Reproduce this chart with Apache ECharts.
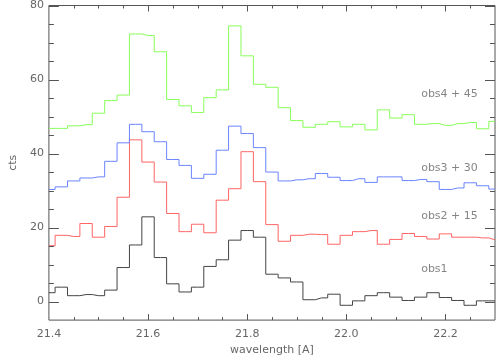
<!DOCTYPE html>
<html>
<head>
<meta charset="utf-8">
<script src="https://cdn.jsdelivr.net/npm/echarts@6/dist/echarts.min.js"></script>
<style>
  html, body { margin: 0; padding: 0; background: #fff; }
  #chart { width: 496px; height: 361px; }
</style>
</head>
<body>
<div id="chart"></div>
<script>
// wavelength bins [A]
const wavelength = [
  21.400, 21.425, 21.450, 21.475, 21.500, 21.525, 21.550, 21.575, 21.600, 21.625,
  21.650, 21.675, 21.700, 21.725, 21.750, 21.775, 21.800, 21.825, 21.850, 21.875,
  21.900, 21.925, 21.950, 21.975, 22.000, 22.025, 22.050, 22.075, 22.100, 22.125,
  22.150, 22.175, 22.200, 22.225, 22.250, 22.275, 22.300
]

// counts of each observation (before the plot offset)
const obs1 = [
  2.4, 3.9, 1.6, 1.9, 1.6, 3.1, 9.2, 15.3, 22.9, 11.9,
  4.8, 2.6, 3.9, 9.5, 11.3, 16.6, 19.2, 17.4, 7.4, 6.4,
  5.3, 0.5, 1.0, 2.0, -1.0, 0.2, 1.6, 2.4, 1.2, 0.3,
  1.2, 2.4, 1.1, 0.3, -1.0, 0.2, 0.2
]
const obs2 = [
  0.1, 2.9, 2.6, 6.1, 2.4, 5.3, 13.2, 28.7, 22.7, 17.3,
  8.8, 3.9, 5.9, 3.6, 12.4, 15.5, 25.5, 17.4, 5.8, 1.3,
  2.9, 3.2, 3.1, 0.5, 2.9, 3.9, 4.2, 0.5, 1.8, 3.4,
  2.6, 1.9, 3.3, 2.4, 2.4, 2.2, 1.7
]
const obs3 = [
  0.3, 1.0, 2.6, 3.4, 3.7, 7.9, 12.9, 17.9, 15.9, 13.2,
  8.4, 6.8, 3.3, 4.4, 10.9, 17.4, 15.4, 11.6, 5.0, 2.6,
  2.9, 3.2, 4.6, 3.6, 2.7, 3.2, 2.2, 3.7, 3.7, 2.7,
  3.0, 2.4, 0.3, 0.7, 2.1, 1.3, 0.4
]
const obs4 = [
  1.8, 1.8, 2.5, 2.8, 5.9, 9.3, 10.8, 27.3, 26.9, 22.5,
  9.6, 7.9, 6.1, 10.1, 12.2, 29.5, 21.4, 13.7, 12.9, 7.4,
  3.9, 2.1, 2.9, 3.6, 2.2, 2.9, 1.4, 6.8, 4.6, 5.5,
  2.9, 3.1, 2.6, 3.1, 3.4, 1.7, 3.7
]

const obsNames = ['obs1', 'obs2', 'obs3', 'obs4']
const obsOffsets = [0, 15, 30, 45]
const obsColors = ['#444444', '#ff6464', '#6a84ff', '#88ff5a']

// where the labels sit (data coordinates)
const labelTexts = ['obs1', 'obs2 + 15', 'obs3 + 30', 'obs4 + 45']
const labelX = [22.15, 22.15, 22.15, 22.15]
const labelY = [8.9, 23.0, 36.1, 56.1]

// tick labels / tick marks
const yMajor = [0, 20, 40, 60, 80]
const xMajorTicks = [21.6, 21.8, 22.0, 22.2]
const xMinorTicks = [21.45, 21.5, 21.55, 21.65, 21.7, 21.75, 21.85, 21.9, 21.95, 22.05, 22.1, 22.15, 22.25]
const yMinorTicks = [5, 10, 15, 25, 30, 35, 45, 50, 55, 65, 70, 75]

const axisColor = '#555'
const textColor = '#666'
const font = 'DejaVu Sans'

// inward tick marks on both sides of the frame, placed through the axes' scales
function tickSeries(values, dir, len) {
  return {
    type: 'custom',
    coordinateSystem: 'cartesian2d',
    xAxisIndex: 0,
    yAxisIndex: 0,
    clip: false,
    silent: true,
    z: 5,
    data: values.map(v => dir === 'x' ? [v, 0] : [21.4, v]),
    renderItem: function (params, api) {
      const cs = params.coordSys
      const p = api.coord([api.value(0), api.value(1)])
      const style = { stroke: axisColor, lineWidth: 1 }
      if (dir === 'x') {
        const x = Math.round(p[0]) + 0.5
        const y0 = cs.y + cs.height
        return {
          type: 'group',
          children: [
            { type: 'line', shape: { x1: x, y1: y0, x2: x, y2: y0 - len }, style },
            { type: 'line', shape: { x1: x, y1: cs.y, x2: x, y2: cs.y + len }, style }
          ]
        }
      }
      const y = Math.round(p[1]) + 0.5
      const x1 = cs.x + cs.width
      return {
        type: 'group',
        children: [
          { type: 'line', shape: { x1: cs.x, y1: y, x2: cs.x + len, y2: y }, style },
          { type: 'line', shape: { x1: x1, y1: y, x2: x1 - len, y2: y }, style }
        ]
      }
    }
  }
}

const chart = echarts.init(document.getElementById('chart'))

const lineSeries = [obs1, obs2, obs3, obs4].map((vals, i) => ({
  name: obsNames[i],
  type: 'line',
  step: 'middle',
  showSymbol: false,
  xAxisIndex: 0,
  yAxisIndex: 0,
  clip: true,
  lineStyle: { color: obsColors[i], width: 1 },
  itemStyle: { color: obsColors[i] },
  data: vals.map((v, k) => [wavelength[k], v + obsOffsets[i]])
}))

const labelSeries = {
  type: 'scatter',
  xAxisIndex: 0,
  yAxisIndex: 0,
  symbolSize: 1,
  itemStyle: { color: 'rgba(0,0,0,0)' },
  label: {
    show: true, position: 'right', distance: 0,
    color: textColor, fontFamily: font, fontSize: 11,
    formatter: p => p.name
  },
  data: labelTexts.map((t, i) => ({ name: t, value: [labelX[i], labelY[i]] }))
}

chart.setOption({
  animation: false,
  backgroundColor: '#fff',
  grid: { left: 36, right: 1, top: 3, bottom: 35, show: true, borderColor: axisColor, borderWidth: 1 },
  xAxis: {
    type: 'value', position: 'bottom', min: 21.4, max: 22.3, interval: 0.2,
    axisLine: { show: false, onZero: false },
    axisTick: { show: false },
    splitLine: { show: false },
    axisLabel: {
      margin: 9, showMaxLabel: false,
      color: textColor, fontFamily: font, fontSize: 11,
      formatter: v => v.toFixed(1)
    },
    name: 'wavelength [A]', nameLocation: 'middle', nameGap: 21,
    nameTextStyle: { color: textColor, fontFamily: font, fontSize: 11 }
  },
  yAxis: {
    type: 'value', position: 'left', min: -5, max: 80, interval: 5,
    axisLine: { show: false, onZero: false },
    axisTick: { show: false },
    splitLine: { show: false },
    axisLabel: {
      customValues: yMajor, margin: 5,
      color: textColor, fontFamily: font, fontSize: 11
    },
    name: 'cts', nameLocation: 'middle', nameGap: 22,
    nameTextStyle: { color: textColor, fontFamily: font, fontSize: 11 }
  },
  series: [
    ...lineSeries,
    labelSeries,
    tickSeries(xMajorTicks, 'x', 6),
    tickSeries(xMinorTicks, 'x', 3),
    tickSeries(yMajor, 'y', 10),
    tickSeries(yMinorTicks, 'y', 5)
  ]
})
</script>
</body>
</html>
